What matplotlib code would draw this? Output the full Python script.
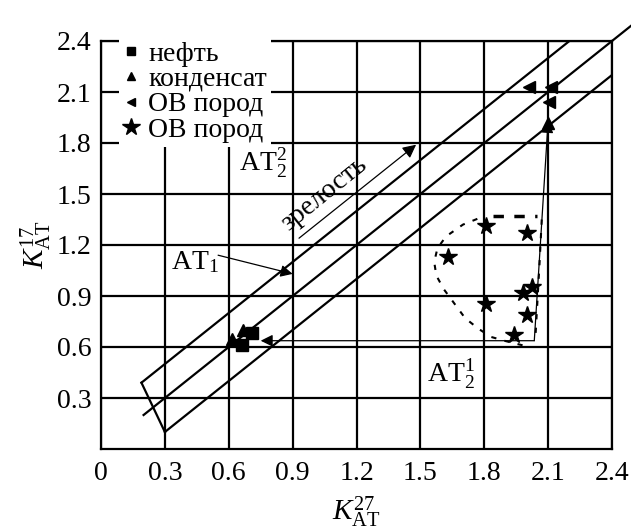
import numpy as np
import matplotlib
matplotlib.use("Agg")
import matplotlib.pyplot as plt
from matplotlib.lines import Line2D

plt.rcParams['font.family'] = ['Liberation Serif', 'DejaVu Serif']
plt.rcParams['mathtext.fontset'] = 'custom'
plt.rcParams['mathtext.rm'] = 'Liberation Serif'
plt.rcParams['mathtext.it'] = 'Liberation Serif:italic'
plt.rcParams['mathtext.bf'] = 'Liberation Serif:bold'

# ---- data ----
tick_values = [0, 0.3, 0.6, 0.9, 1.2, 1.5, 1.8, 2.1, 2.4]
xtick_labels = ["0", "0.3", "0.6", "0.9", "1.2", "1.5", "1.8", "2.1", "2.4"]
ytick_values = [0.3, 0.6, 0.9, 1.2, 1.5, 1.8, 2.1, 2.4]
ytick_labels = ["0.3", "0.6", "0.9", "1.2", "1.5", "1.8", "2.1", "2.4"]

oil_x = [0.708, 0.661]
oil_y = [0.684, 0.613]
cond_x = [0.666, 0.614, 2.10]
cond_y = [0.700, 0.648, 1.92]
ovl_x = [2.01, 2.114, 2.105]
ovl_y = [2.128, 2.128, 2.04]
star_x = [1.81, 2.00, 1.63, 2.025, 1.98, 1.81, 2.00, 1.94]
star_y = [1.31, 1.27, 1.13, 0.955, 0.92, 0.855, 0.79, 0.67]

# zone boundaries
upper_x = [0.19, 2.20]
upper_y = [0.39, 2.40]
middle_x = [0.20, 2.52]
middle_y = [0.20, 2.52]
lower_x = [0.30, 2.40]
lower_y = [0.10, 2.20]
cap_x = [0.19, 0.30]
cap_y = [0.39, 0.10]

# dashed contour
dash_x = [1.98, 1.90, 1.83, 1.77, 1.71, 1.66, 1.61, 1.575, 1.565, 1.58, 1.62, 1.70, 1.78]
dash_y = [0.61, 0.635, 0.66, 0.71, 0.77, 0.855, 0.94, 1.02, 1.10, 1.18, 1.25, 1.32, 1.36]
dash_top_x = [1.84, 2.05]
dash_top_y = [1.37, 1.37]
dash_right_x = [2.07, 2.06, 2.04]
dash_right_y = [1.35, 1.10, 0.65]

# migration path
corner = (2.035, 0.637)
left_tip = (0.75, 0.637)
up_tip = (2.10, 1.93)

FS = 20

fig = plt.figure(figsize=(6.31, 5.30), dpi=100)
ax = fig.add_axes([101/631, 1-449/530, 511/631, 408/530])
ax.set_xlim(0, 2.4)
ax.set_ylim(0, 2.4)
ax.set_xticks(tick_values)
ax.set_xticklabels(xtick_labels)
ax.set_yticks(ytick_values)
ax.set_yticklabels(ytick_labels)
ax.tick_params(length=0, labelsize=FS, colors='black')
ax.tick_params(axis='x', pad=9)
ax.tick_params(axis='y', pad=7)
ax.grid(True, color='black', lw=1.6)
ax.set_axisbelow(True)
for s in ax.spines.values():
    s.set_linewidth(1.6)

lw = 1.6
ax.plot(upper_x, upper_y, color='black', lw=lw, zorder=3)
ax.plot(middle_x, middle_y, color='black', lw=lw, zorder=3, clip_on=False)
ax.plot(lower_x, lower_y, color='black', lw=lw, zorder=3)
ax.plot(cap_x, cap_y, color='black', lw=lw, zorder=3)

# dashed contour
ax.plot(dash_x, dash_y, color='black', lw=1.5, ls=(0, (2.5, 4)), zorder=3)
ax.plot(dash_top_x, dash_top_y, color='black', lw=2.5, ls=(0, (3, 3)), zorder=3)
ax.plot(dash_right_x, dash_right_y, color='black', lw=1.5, ls=(0, (2.5, 4)), zorder=3)

# migration arrows
ax.annotate('', xy=left_tip, xytext=corner,
            arrowprops=dict(arrowstyle='-|>', color='black', lw=0.9,
                            mutation_scale=18, shrinkA=0, shrinkB=0), zorder=4)
ax.annotate('', xy=up_tip, xytext=corner,
            arrowprops=dict(arrowstyle='-|>', color='black', lw=0.9,
                            mutation_scale=18, shrinkA=0, shrinkB=0), zorder=4)

# maturity arrow and text
ax.annotate('', xy=(1.48, 1.79), xytext=(0.93, 1.24),
            arrowprops=dict(arrowstyle='-|>', color='black', lw=0.9,
                            mutation_scale=20, shrinkA=0, shrinkB=0), zorder=4)
ax.text(1.05, 1.50, 'зрелость', rotation=39, ha='center', va='center',
        fontsize=FS, rotation_mode='anchor', zorder=5)

# АТ1 arrow
ax.annotate('', xy=(0.90, 1.03), xytext=(0.55, 1.14),
            arrowprops=dict(arrowstyle='-|>', color='black', lw=0.9,
                            mutation_scale=18, shrinkA=0, shrinkB=0), zorder=4)
ax.text(0.44, 1.10, r'$\mathrm{АТ}_1$', ha='center', va='center', fontsize=FS,
        zorder=5)
ax.text(0.76, 1.68, r'$\mathrm{АТ}_2^2$', ha='center', va='center', fontsize=FS,
        zorder=5)
ax.text(1.645, 0.44, r'$\mathrm{АТ}_2^1$', ha='center', va='center', fontsize=FS,
        zorder=5)

# markers
ax.plot(oil_x, oil_y, 's', color='black', ms=8, zorder=6, ls='none')
ax.plot(cond_x, cond_y, '^', color='black', ms=8, zorder=6, ls='none')
ax.plot(ovl_x, ovl_y, '<', color='black', ms=8, zorder=6, ls='none')
ax.plot(star_x, star_y, '*', color='black', ms=13, zorder=6, ls='none')

ax.set_xlabel(r'$K^{27}_{\mathrm{АТ}}$', fontsize=21, labelpad=6)
ax.set_ylabel(r'$K^{17}_{\mathrm{АТ}}$', fontsize=21, labelpad=2)

handles = [
    Line2D([], [], marker='s', color='black', ls='none', ms=6),
    Line2D([], [], marker='^', color='black', ls='none', ms=6),
    Line2D([], [], marker='<', color='black', ls='none', ms=6),
    Line2D([], [], marker='*', color='black', ls='none', ms=13),
]
labels = ['нефть', 'конденсат', 'ОВ пород', 'ОВ пород']
leg = ax.legend(handles, labels, loc='upper left', bbox_to_anchor=(0.035, 1.01),
                frameon=True, fontsize=FS, handlelength=0.6, handletextpad=0.3,
                labelspacing=0.0, borderpad=0.15, borderaxespad=0,
                fancybox=False, framealpha=1)
leg.get_frame().set_edgecolor('none')
leg.get_frame().set_facecolor('white')
leg.set_zorder(10)

fig.savefig('out.png', dpi=100)
